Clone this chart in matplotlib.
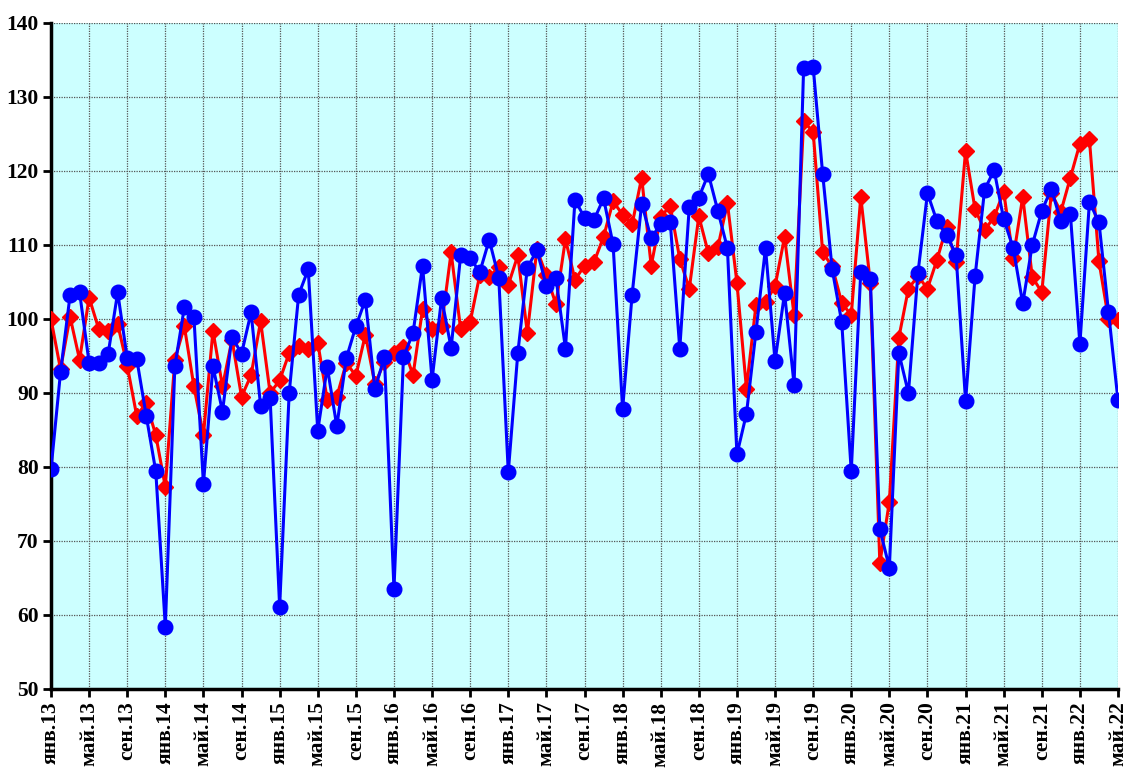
import matplotlib
matplotlib.use("Agg")
import matplotlib.pyplot as plt
from matplotlib.font_manager import FontProperties
import numpy as np

# Monthly series, Jan 2013 .. May 2022
blue_values = [
    79.7, 92.8, 103.2, 103.6, 94.1, 94.0, 95.3, 103.6, 94.7, 94.6, 86.9, 79.4,
    58.4, 93.6, 101.6, 100.3, 77.7, 93.6, 87.5, 97.6, 95.3, 100.9, 88.3, 89.3,
    61.1, 90.0, 103.3, 106.7, 84.9, 93.5, 85.5, 94.7, 99.0, 102.6, 90.5, 94.9,
    63.5, 94.9, 98.1, 107.2, 91.8, 102.8, 96.1, 108.6, 108.3, 106.3, 110.7, 105.6,
    79.3, 95.4, 106.9, 109.3, 104.5, 105.6, 96.0, 116.1, 113.7, 113.4, 116.3, 110.1,
    87.8, 103.3, 115.6, 110.9, 112.9, 113.1, 96.0, 115.2, 116.4, 119.6, 114.6, 109.6,
    81.7, 87.2, 98.3, 109.6, 94.3, 103.5, 91.1, 133.9, 134.1, 119.6, 106.7, 99.6,
    79.4, 106.4, 105.4, 71.6, 66.4, 95.4, 90.0, 106.2, 117.0, 113.2, 111.4, 108.7,
    88.9, 105.8, 117.5, 120.1, 113.5, 109.6, 102.1, 110.0, 114.6, 117.6, 113.2, 114.2,
    96.6, 115.8, 113.1, 101.0, 89.0,
]
red_values = [
    100.0, 93.2, 100.3, 94.5, 102.9, 98.7, 98.4, 99.3, 93.7, 86.9, 88.7, 84.3,
    77.3, 94.5, 99.0, 90.9, 84.3, 98.4, 90.9, 97.2, 89.5, 92.4, 99.7, 90.0,
    91.7, 95.4, 96.4, 95.9, 96.8, 89.1, 89.5, 94.1, 92.3, 97.9, 91.2, 94.2,
    95.4, 96.2, 92.4, 101.3, 98.6, 99.1, 109.0, 98.6, 99.6, 105.9, 105.7, 107.0,
    104.6, 108.6, 98.1, 109.4, 105.9, 102.0, 110.8, 105.3, 107.2, 107.7, 111.1, 115.9,
    114.1, 112.8, 119.1, 107.2, 113.8, 115.3, 108.1, 104.1, 113.9, 108.9, 109.7, 115.7,
    104.9, 90.6, 101.9, 102.3, 104.4, 111.1, 100.5, 126.7, 125.3, 109.0, 107.1, 102.2,
    100.5, 116.5, 104.9, 67.0, 75.3, 97.5, 104.1, 105.8, 104.1, 108.0, 112.4, 107.7,
    122.7, 114.8, 112.0, 113.8, 117.2, 108.2, 116.5, 105.7, 103.6, 117.0, 114.5, 119.1,
    123.7, 124.3, 107.8, 100.0, 99.8,
]
month_names = ["янв", "май", "сен"]
years = list(range(13, 23))
tick_labels = []
for y in years:
    for m in month_names:
        tick_labels.append(f"{m}.{y}")
tick_labels = tick_labels[:29]  # up to май.22

x = np.arange(len(blue_values))

fig = plt.figure(figsize=(11.26, 7.69), dpi=100)
ax = fig.add_axes([51 / 1126, 1 - 689 / 769, (1118 - 51) / 1126, (689 - 23) / 769])
ax.set_facecolor("#CCFFFF")

ax.plot(x, red_values, color="#FF0000", lw=2.2, marker="D", markersize=8,
        markeredgecolor="#FF0000", zorder=3)
ax.plot(x, blue_values, color="#0000FF", lw=2.2, marker="o", markersize=10.5,
        markeredgecolor="#0000FF", zorder=4)

ax.set_xlim(0, len(blue_values) - 1)
ax.set_ylim(50, 140)
ax.set_yticks(np.arange(50, 141, 10))
ax.set_xticks(np.arange(0, len(blue_values), 4))

fp = FontProperties(family=["Liberation Serif", "DejaVu Serif"], weight="bold", size=15.5)
ax.set_xticklabels(tick_labels, rotation=90, va="top", ha="center", fontproperties=fp)
ax.set_yticklabels([str(v) for v in range(50, 141, 10)], fontproperties=fp)

ax.grid(True, color="#555555", linestyle=(0, (1, 1)), linewidth=0.9, zorder=1)
ax.set_axisbelow(True)

for s in ["top", "right"]:
    ax.spines[s].set_visible(False)
ax.spines["left"].set_linewidth(2.5)
ax.spines["bottom"].set_linewidth(2.5)
ax.tick_params(axis="both", direction="out", length=6, width=2, colors="black", pad=3)

fig.savefig("out.png", dpi=100, facecolor="white")
